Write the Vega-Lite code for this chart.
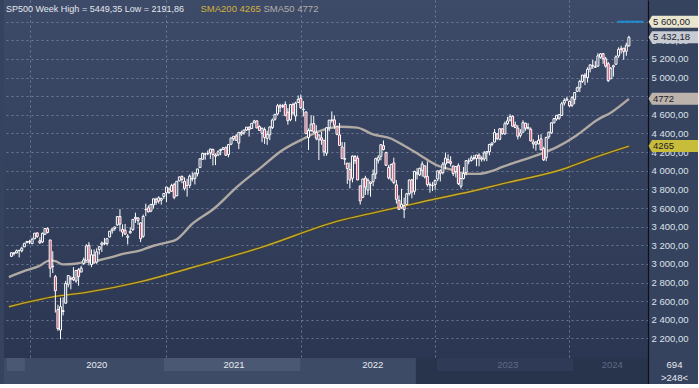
{
"$schema": "https://vega.github.io/schema/vega-lite/v6.json",
"padding": {"left": 3, "top": 0, "right": 0, "bottom": 0},
"background": "#36435f",
"spacing": -1,
"config": {
  "font": "Liberation Sans",
  "view": {"stroke": null},
  "axis": {"labelOverlap": false},
  "locale": {"number": {"decimal": ",", "thousands": " ", "grouping": [3], "currency": ["", ""]}}
},
"datasets": {
"candles": [
{"d":"2019-11-11","o":3081,"h":3123,"l":3078,"c":3120},
{"d":"2019-11-18","o":3118,"h":3127,"l":3091,"c":3110},
{"d":"2019-11-25","o":3117,"h":3154,"l":3115,"c":3141},
{"d":"2019-12-02","o":3144,"h":3150,"l":3070,"c":3146},
{"d":"2019-12-09","o":3141,"h":3183,"l":3124,"c":3169},
{"d":"2019-12-16","o":3183,"h":3226,"l":3180,"c":3221},
{"d":"2019-12-23","o":3227,"h":3248,"l":3227,"c":3240},
{"d":"2019-12-30","o":3240,"h":3259,"l":3212,"c":3235},
{"d":"2020-01-06","o":3217,"h":3282,"l":3214,"c":3265},
{"d":"2020-01-13","o":3271,"h":3330,"l":3264,"c":3330},
{"d":"2020-01-20","o":3333,"h":3338,"l":3280,"c":3295},
{"d":"2020-01-27","o":3248,"h":3285,"l":3214,"c":3226},
{"d":"2020-02-03","o":3235,"h":3337,"l":3223,"c":3328},
{"d":"2020-02-10","o":3318,"h":3385,"l":3315,"c":3380},
{"d":"2020-02-17","o":3379,"h":3393,"l":3328,"c":3338},
{"d":"2020-02-24","o":3257,"h":3259,"l":2855,"c":2954},
{"d":"2020-03-02","o":2975,"h":3137,"l":2901,"c":2972},
{"d":"2020-03-09","o":2863,"h":2882,"l":2478,"c":2711},
{"d":"2020-03-16","o":2509,"h":2562,"l":2281,"c":2305},
{"d":"2020-03-23","o":2290,"h":2637,"l":2192,"c":2541},
{"d":"2020-03-30","o":2498,"h":2641,"l":2447,"c":2489},
{"d":"2020-04-06","o":2578,"h":2818,"l":2575,"c":2790},
{"d":"2020-04-13","o":2782,"h":2880,"l":2749,"c":2875},
{"d":"2020-04-20","o":2845,"h":2868,"l":2727,"c":2837},
{"d":"2020-04-27","o":2854,"h":2965,"l":2815,"c":2831},
{"d":"2020-05-04","o":2816,"h":2933,"l":2798,"c":2930},
{"d":"2020-05-11","o":2937,"h":2955,"l":2766,"c":2864},
{"d":"2020-05-18","o":2913,"h":2980,"l":2910,"c":2955},
{"d":"2020-05-25","o":3005,"h":3068,"l":2988,"c":3044},
{"d":"2020-06-01","o":3038,"h":3211,"l":3032,"c":3194},
{"d":"2020-06-08","o":3199,"h":3234,"l":2984,"c":3041},
{"d":"2020-06-15","o":2994,"h":3155,"l":2965,"c":3098},
{"d":"2020-06-22","o":3094,"h":3155,"l":3004,"c":3009},
{"d":"2020-06-29","o":3019,"h":3166,"l":3001,"c":3130},
{"d":"2020-07-06","o":3155,"h":3185,"l":3101,"c":3185},
{"d":"2020-07-13","o":3205,"h":3240,"l":3128,"c":3225},
{"d":"2020-07-20","o":3224,"h":3279,"l":3201,"c":3216},
{"d":"2020-07-27","o":3219,"h":3277,"l":3200,"c":3271},
{"d":"2020-08-03","o":3289,"h":3352,"l":3284,"c":3351},
{"d":"2020-08-10","o":3356,"h":3387,"l":3324,"c":3373},
{"d":"2020-08-17","o":3380,"h":3399,"l":3355,"c":3397},
{"d":"2020-08-24","o":3418,"h":3509,"l":3408,"c":3508},
{"d":"2020-08-31","o":3509,"h":3588,"l":3349,"c":3427},
{"d":"2020-09-07","o":3370,"h":3425,"l":3293,"c":3341},
{"d":"2020-09-14","o":3363,"h":3429,"l":3313,"c":3319},
{"d":"2020-09-21","o":3285,"h":3320,"l":3209,"c":3298},
{"d":"2020-09-28","o":3334,"h":3393,"l":3324,"c":3348},
{"d":"2020-10-05","o":3368,"h":3482,"l":3354,"c":3477},
{"d":"2020-10-12","o":3500,"h":3550,"l":3441,"c":3484},
{"d":"2020-10-19","o":3493,"h":3502,"l":3419,"c":3465},
{"d":"2020-10-26","o":3441,"h":3443,"l":3234,"c":3270},
{"d":"2020-11-02","o":3296,"h":3530,"l":3280,"c":3509},
{"d":"2020-11-09","o":3583,"h":3646,"l":3512,"c":3585},
{"d":"2020-11-16","o":3601,"h":3628,"l":3553,"c":3558},
{"d":"2020-11-23","o":3567,"h":3644,"l":3556,"c":3638},
{"d":"2020-11-30","o":3634,"h":3700,"l":3594,"c":3699},
{"d":"2020-12-07","o":3694,"h":3712,"l":3634,"c":3663},
{"d":"2020-12-14","o":3675,"h":3726,"l":3648,"c":3709},
{"d":"2020-12-21","o":3684,"h":3711,"l":3636,"c":3703},
{"d":"2020-12-28","o":3723,"h":3760,"l":3697,"c":3756},
{"d":"2021-01-04","o":3764,"h":3827,"l":3663,"c":3825},
{"d":"2021-01-11","o":3803,"h":3823,"l":3750,"c":3768},
{"d":"2021-01-18","o":3781,"h":3860,"l":3774,"c":3841},
{"d":"2021-01-25","o":3851,"h":3870,"l":3694,"c":3714},
{"d":"2021-02-01","o":3732,"h":3887,"l":3726,"c":3887},
{"d":"2021-02-08","o":3892,"h":3937,"l":3885,"c":3934},
{"d":"2021-02-15","o":3939,"h":3950,"l":3866,"c":3907},
{"d":"2021-02-22","o":3886,"h":3928,"l":3788,"c":3811},
{"d":"2021-03-01","o":3842,"h":3914,"l":3723,"c":3842},
{"d":"2021-03-08","o":3844,"h":3960,"l":3814,"c":3943},
{"d":"2021-03-15","o":3914,"h":3983,"l":3885,"c":3913},
{"d":"2021-03-22","o":3916,"h":3979,"l":3853,"c":3975},
{"d":"2021-03-29","o":3969,"h":4020,"l":3939,"c":4020},
{"d":"2021-04-05","o":4034,"h":4130,"l":4034,"c":4129},
{"d":"2021-04-12","o":4124,"h":4192,"l":4116,"c":4185},
{"d":"2021-04-19","o":4179,"h":4194,"l":4118,"c":4180},
{"d":"2021-04-26","o":4185,"h":4218,"l":4167,"c":4181},
{"d":"2021-05-03","o":4192,"h":4238,"l":4128,"c":4233},
{"d":"2021-05-10","o":4228,"h":4238,"l":4057,"c":4174},
{"d":"2021-05-17","o":4169,"h":4187,"l":4061,"c":4156},
{"d":"2021-05-24","o":4170,"h":4220,"l":4157,"c":4204},
{"d":"2021-05-31","o":4216,"h":4234,"l":4167,"c":4230},
{"d":"2021-06-07","o":4229,"h":4255,"l":4222,"c":4247},
{"d":"2021-06-14","o":4248,"h":4262,"l":4164,"c":4166},
{"d":"2021-06-21","o":4174,"h":4287,"l":4144,"c":4281},
{"d":"2021-06-28","o":4285,"h":4356,"l":4275,"c":4352},
{"d":"2021-07-05","o":4344,"h":4372,"l":4321,"c":4370},
{"d":"2021-07-12","o":4373,"h":4394,"l":4326,"c":4327},
{"d":"2021-07-19","o":4297,"h":4415,"l":4233,"c":4412},
{"d":"2021-07-26","o":4409,"h":4430,"l":4374,"c":4395},
{"d":"2021-08-02","o":4406,"h":4441,"l":4387,"c":4437},
{"d":"2021-08-09","o":4437,"h":4470,"l":4426,"c":4468},
{"d":"2021-08-16","o":4462,"h":4480,"l":4367,"c":4442},
{"d":"2021-08-23","o":4454,"h":4510,"l":4451,"c":4509},
{"d":"2021-08-30","o":4514,"h":4546,"l":4513,"c":4535},
{"d":"2021-09-06","o":4535,"h":4542,"l":4458,"c":4459},
{"d":"2021-09-13","o":4474,"h":4487,"l":4428,"c":4433},
{"d":"2021-09-20","o":4402,"h":4465,"l":4306,"c":4455},
{"d":"2021-09-27","o":4442,"h":4466,"l":4288,"c":4357},
{"d":"2021-10-04","o":4348,"h":4429,"l":4278,"c":4391},
{"d":"2021-10-11","o":4386,"h":4475,"l":4329,"c":4471},
{"d":"2021-10-18","o":4464,"h":4560,"l":4448,"c":4545},
{"d":"2021-10-25","o":4553,"h":4608,"l":4538,"c":4605},
{"d":"2021-11-01","o":4610,"h":4718,"l":4595,"c":4697},
{"d":"2021-11-08","o":4701,"h":4718,"l":4630,"c":4682},
{"d":"2021-11-15","o":4689,"h":4718,"l":4672,"c":4698},
{"d":"2021-11-22","o":4712,"h":4744,"l":4585,"c":4595},
{"d":"2021-11-29","o":4628,"h":4672,"l":4495,"c":4538},
{"d":"2021-12-06","o":4548,"h":4713,"l":4532,"c":4712},
{"d":"2021-12-13","o":4710,"h":4732,"l":4600,"c":4620},
{"d":"2021-12-20","o":4587,"h":4741,"l":4531,"c":4726},
{"d":"2021-12-27","o":4733,"h":4808,"l":4733,"c":4766},
{"d":"2022-01-03","o":4779,"h":4819,"l":4663,"c":4677},
{"d":"2022-01-10","o":4655,"h":4749,"l":4582,"c":4662},
{"d":"2022-01-17","o":4632,"h":4632,"l":4396,"c":4398},
{"d":"2022-01-24","o":4357,"h":4454,"l":4223,"c":4432},
{"d":"2022-01-31","o":4432,"h":4596,"l":4417,"c":4500},
{"d":"2022-02-07","o":4507,"h":4590,"l":4401,"c":4418},
{"d":"2022-02-14","o":4412,"h":4489,"l":4327,"c":4349},
{"d":"2022-02-21","o":4332,"h":4386,"l":4115,"c":4385},
{"d":"2022-02-28","o":4354,"h":4417,"l":4279,"c":4329},
{"d":"2022-03-07","o":4327,"h":4327,"l":4157,"c":4204},
{"d":"2022-03-14","o":4189,"h":4465,"l":4161,"c":4463},
{"d":"2022-03-21","o":4462,"h":4546,"l":4424,"c":4543},
{"d":"2022-03-28","o":4541,"h":4637,"l":4517,"c":4546},
{"d":"2022-04-04","o":4547,"h":4593,"l":4450,"c":4488},
{"d":"2022-04-11","o":4474,"h":4475,"l":4381,"c":4392},
{"d":"2022-04-18","o":4385,"h":4513,"l":4268,"c":4272},
{"d":"2022-04-25","o":4256,"h":4308,"l":4124,"c":4132},
{"d":"2022-05-02","o":4131,"h":4307,"l":4063,"c":4123},
{"d":"2022-05-09","o":4082,"h":4082,"l":3859,"c":4024},
{"d":"2022-05-16","o":4013,"h":4090,"l":3811,"c":3901},
{"d":"2022-05-23","o":3920,"h":4165,"l":3875,"c":4158},
{"d":"2022-05-30","o":4153,"h":4168,"l":4074,"c":4109},
{"d":"2022-06-06","o":4134,"h":4164,"l":3900,"c":3901},
{"d":"2022-06-13","o":3838,"h":3838,"l":3637,"c":3675},
{"d":"2022-06-20","o":3715,"h":3913,"l":3705,"c":3912},
{"d":"2022-06-27","o":3921,"h":3946,"l":3741,"c":3825},
{"d":"2022-07-04","o":3792,"h":3918,"l":3742,"c":3899},
{"d":"2022-07-11","o":3880,"h":3880,"l":3722,"c":3863},
{"d":"2022-07-18","o":3883,"h":4013,"l":3834,"c":3962},
{"d":"2022-07-25","o":3966,"h":4140,"l":3911,"c":4130},
{"d":"2022-08-01","o":4113,"h":4167,"l":4079,"c":4145},
{"d":"2022-08-08","o":4155,"h":4281,"l":4112,"c":4280},
{"d":"2022-08-15","o":4269,"h":4325,"l":4218,"c":4228},
{"d":"2022-08-22","o":4195,"h":4204,"l":4057,"c":4058},
{"d":"2022-08-29","o":4035,"h":4062,"l":3907,"c":3924},
{"d":"2022-09-05","o":3910,"h":4077,"l":3886,"c":4067},
{"d":"2022-09-12","o":4084,"h":4140,"l":3856,"c":3873},
{"d":"2022-09-19","o":3849,"h":3900,"l":3647,"c":3693},
{"d":"2022-09-26","o":3682,"h":3736,"l":3584,"c":3586},
{"d":"2022-10-03","o":3609,"h":3807,"l":3591,"c":3640},
{"d":"2022-10-10","o":3626,"h":3712,"l":3491,"c":3583},
{"d":"2022-10-17","o":3638,"h":3762,"l":3647,"c":3753},
{"d":"2022-10-24","o":3754,"h":3906,"l":3734,"c":3901},
{"d":"2022-10-31","o":3902,"h":3912,"l":3704,"c":3771},
{"d":"2022-11-07","o":3780,"h":4000,"l":3744,"c":3993},
{"d":"2022-11-14","o":3978,"h":4029,"l":3906,"c":3965},
{"d":"2022-11-21","o":3956,"h":4034,"l":3943,"c":4026},
{"d":"2022-11-28","o":4005,"h":4101,"l":3937,"c":4072},
{"d":"2022-12-05","o":4053,"h":4053,"l":3918,"c":3934},
{"d":"2022-12-12","o":3940,"h":4101,"l":3828,"c":3852},
{"d":"2022-12-19","o":3853,"h":3876,"l":3765,"c":3845},
{"d":"2022-12-26","o":3843,"h":3878,"l":3783,"c":3840},
{"d":"2023-01-02","o":3853,"h":3906,"l":3795,"c":3895},
{"d":"2023-01-09","o":3911,"h":4003,"l":3887,"c":3999},
{"d":"2023-01-16","o":3999,"h":4015,"l":3885,"c":3973},
{"d":"2023-01-23","o":3979,"h":4094,"l":3961,"c":4071},
{"d":"2023-01-30","o":4071,"h":4195,"l":4015,"c":4136},
{"d":"2023-02-06","o":4120,"h":4176,"l":4079,"c":4090},
{"d":"2023-02-13","o":4097,"h":4156,"l":4048,"c":4079},
{"d":"2023-02-20","o":4052,"h":4052,"l":3944,"c":3970},
{"d":"2023-02-27","o":3992,"h":4049,"l":3928,"c":4046},
{"d":"2023-03-06","o":4055,"h":4079,"l":3847,"c":3862},
{"d":"2023-03-13","o":3835,"h":3964,"l":3809,"c":3917},
{"d":"2023-03-20","o":3917,"h":4040,"l":3906,"c":3971},
{"d":"2023-03-27","o":3982,"h":4110,"l":3951,"c":4109},
{"d":"2023-04-03","o":4102,"h":4133,"l":4069,"c":4105},
{"d":"2023-04-10","o":4110,"h":4164,"l":4098,"c":4138},
{"d":"2023-04-17","o":4139,"h":4170,"l":4113,"c":4133},
{"d":"2023-04-24","o":4132,"h":4170,"l":4049,"c":4169},
{"d":"2023-05-01","o":4167,"h":4187,"l":4048,"c":4136},
{"d":"2023-05-08","o":4136,"h":4154,"l":4098,"c":4124},
{"d":"2023-05-15","o":4126,"h":4212,"l":4103,"c":4192},
{"d":"2023-05-22","o":4190,"h":4212,"l":4103,"c":4205},
{"d":"2023-05-29","o":4205,"h":4290,"l":4166,"c":4282},
{"d":"2023-06-05","o":4282,"h":4299,"l":4261,"c":4299},
{"d":"2023-06-12","o":4308,"h":4448,"l":4305,"c":4410},
{"d":"2023-06-19","o":4396,"h":4400,"l":4328,"c":4348},
{"d":"2023-06-26","o":4338,"h":4458,"l":4328,"c":4450},
{"d":"2023-07-03","o":4450,"h":4456,"l":4385,"c":4399},
{"d":"2023-07-10","o":4395,"h":4528,"l":4389,"c":4505},
{"d":"2023-07-17","o":4506,"h":4578,"l":4493,"c":4536},
{"d":"2023-07-24","o":4544,"h":4607,"l":4528,"c":4582},
{"d":"2023-07-31","o":4585,"h":4594,"l":4474,"c":4478},
{"d":"2023-08-07","o":4492,"h":4527,"l":4457,"c":4464},
{"d":"2023-08-14","o":4458,"h":4490,"l":4336,"c":4370},
{"d":"2023-08-21","o":4380,"h":4447,"l":4355,"c":4406},
{"d":"2023-08-28","o":4414,"h":4542,"l":4414,"c":4516},
{"d":"2023-09-04","o":4511,"h":4515,"l":4430,"c":4457},
{"d":"2023-09-11","o":4464,"h":4511,"l":4448,"c":4450},
{"d":"2023-09-18","o":4445,"h":4465,"l":4316,"c":4320},
{"d":"2023-09-25","o":4310,"h":4338,"l":4238,"c":4288},
{"d":"2023-10-02","o":4284,"h":4320,"l":4216,"c":4308},
{"d":"2023-10-09","o":4289,"h":4385,"l":4283,"c":4327},
{"d":"2023-10-16","o":4343,"h":4393,"l":4223,"c":4224},
{"d":"2023-10-23","o":4239,"h":4259,"l":4104,"c":4117},
{"d":"2023-10-30","o":4140,"h":4365,"l":4103,"c":4358},
{"d":"2023-11-06","o":4365,"h":4415,"l":4342,"c":4415},
{"d":"2023-11-13","o":4407,"h":4521,"l":4396,"c":4514},
{"d":"2023-11-20","o":4514,"h":4567,"l":4511,"c":4559},
{"d":"2023-11-27","o":4555,"h":4597,"l":4537,"c":4595},
{"d":"2023-12-04","o":4564,"h":4609,"l":4547,"c":4604},
{"d":"2023-12-11","o":4593,"h":4739,"l":4591,"c":4719},
{"d":"2023-12-18","o":4726,"h":4779,"l":4700,"c":4755},
{"d":"2023-12-25","o":4758,"h":4793,"l":4751,"c":4770},
{"d":"2024-01-01","o":4745,"h":4754,"l":4682,"c":4697},
{"d":"2024-01-08","o":4703,"h":4802,"l":4683,"c":4784},
{"d":"2024-01-15","o":4766,"h":4842,"l":4714,"c":4840},
{"d":"2024-01-22","o":4853,"h":4903,"l":4845,"c":4891},
{"d":"2024-01-29","o":4890,"h":4976,"l":4845,"c":4959},
{"d":"2024-02-05","o":4957,"h":5030,"l":4943,"c":5027},
{"d":"2024-02-12","o":5026,"h":5048,"l":4920,"c":5006},
{"d":"2024-02-19","o":5001,"h":5111,"l":4946,"c":5089},
{"d":"2024-02-26","o":5093,"h":5140,"l":5056,"c":5137},
{"d":"2024-03-04","o":5131,"h":5189,"l":5094,"c":5124},
{"d":"2024-03-11","o":5111,"h":5179,"l":5105,"c":5117},
{"d":"2024-03-18","o":5123,"h":5262,"l":5118,"c":5234},
{"d":"2024-03-25","o":5219,"h":5264,"l":5203,"c":5254},
{"d":"2024-04-01","o":5258,"h":5264,"l":5147,"c":5204},
{"d":"2024-04-08","o":5202,"h":5222,"l":5107,"c":5123},
{"d":"2024-04-15","o":5149,"h":5168,"l":4953,"c":4967},
{"d":"2024-04-22","o":4987,"h":5114,"l":4987,"c":5100},
{"d":"2024-04-29","o":5114,"h":5139,"l":5011,"c":5128},
{"d":"2024-05-06","o":5143,"h":5239,"l":5142,"c":5223},
{"d":"2024-05-13","o":5233,"h":5325,"l":5212,"c":5303},
{"d":"2024-05-20","o":5309,"h":5342,"l":5257,"c":5305},
{"d":"2024-05-27","o":5316,"h":5316,"l":5191,"c":5278},
{"d":"2024-06-03","o":5283,"h":5375,"l":5234,"c":5347},
{"d":"2024-06-10","o":5341,"h":5449,"l":5331,"c":5432}
],
"sma": [
{"d":"2019-11-04","v":2858,"s":"SMA50 4772"},
{"d":"2019-12-20","v":2930,"s":"SMA50 4772"},
{"d":"2020-01-23","v":2973,"s":"SMA50 4772"},
{"d":"2020-02-24","v":3038,"s":"SMA50 4772"},
{"d":"2020-03-09","v":3030,"s":"SMA50 4772"},
{"d":"2020-03-30","v":2995,"s":"SMA50 4772"},
{"d":"2020-05-01","v":3002,"s":"SMA50 4772"},
{"d":"2020-05-28","v":3020,"s":"SMA50 4772"},
{"d":"2020-06-24","v":3030,"s":"SMA50 4772"},
{"d":"2020-08-08","v":3073,"s":"SMA50 4772"},
{"d":"2020-09-11","v":3110,"s":"SMA50 4772"},
{"d":"2020-10-21","v":3140,"s":"SMA50 4772"},
{"d":"2020-11-30","v":3195,"s":"SMA50 4772"},
{"d":"2021-01-09","v":3234,"s":"SMA50 4772"},
{"d":"2021-01-28","v":3255,"s":"SMA50 4772"},
{"d":"2021-03-17","v":3437,"s":"SMA50 4772"},
{"d":"2021-05-14","v":3598,"s":"SMA50 4772"},
{"d":"2021-07-15","v":3830,"s":"SMA50 4772"},
{"d":"2021-09-20","v":4045,"s":"SMA50 4772"},
{"d":"2021-11-12","v":4215,"s":"SMA50 4772"},
{"d":"2022-01-13","v":4349,"s":"SMA50 4772"},
{"d":"2022-02-19","v":4420,"s":"SMA50 4772"},
{"d":"2022-04-21","v":4473,"s":"SMA50 4772"},
{"d":"2022-06-05","v":4463,"s":"SMA50 4772"},
{"d":"2022-07-18","v":4390,"s":"SMA50 4772"},
{"d":"2022-09-02","v":4349,"s":"SMA50 4772"},
{"d":"2022-10-07","v":4277,"s":"SMA50 4772"},
{"d":"2022-11-21","v":4170,"s":"SMA50 4772"},
{"d":"2023-01-05","v":4062,"s":"SMA50 4772"},
{"d":"2023-02-17","v":4009,"s":"SMA50 4772"},
{"d":"2023-03-26","v":3968,"s":"SMA50 4772"},
{"d":"2023-04-29","v":3966,"s":"SMA50 4772"},
{"d":"2023-06-03","v":3995,"s":"SMA50 4772"},
{"d":"2023-07-05","v":4045,"s":"SMA50 4772"},
{"d":"2023-08-14","v":4098,"s":"SMA50 4772"},
{"d":"2023-10-06","v":4167,"s":"SMA50 4772"},
{"d":"2023-11-29","v":4256,"s":"SMA50 4772"},
{"d":"2024-01-21","v":4382,"s":"SMA50 4772"},
{"d":"2024-03-15","v":4543,"s":"SMA50 4772"},
{"d":"2024-04-25","v":4632,"s":"SMA50 4772"},
{"d":"2024-06-10","v":4772,"s":"SMA50 4772"},
{"d":"2019-11-04","v":2540,"s":"SMA200 4265"},
{"d":"2020-03-09","v":2651,"s":"SMA200 4265"},
{"d":"2020-06-05","v":2697,"s":"SMA200 4265"},
{"d":"2020-10-21","v":2804,"s":"SMA200 4265"},
{"d":"2021-03-03","v":2948,"s":"SMA200 4265"},
{"d":"2021-09-20","v":3181,"s":"SMA200 4265"},
{"d":"2022-04-21","v":3468,"s":"SMA200 4265"},
{"d":"2022-07-10","v":3540,"s":"SMA200 4265"},
{"d":"2022-09-28","v":3611,"s":"SMA200 4265"},
{"d":"2023-01-05","v":3700,"s":"SMA200 4265"},
{"d":"2023-04-03","v":3772,"s":"SMA200 4265"},
{"d":"2023-07-05","v":3862,"s":"SMA200 4265"},
{"d":"2023-12-20","v":4024,"s":"SMA200 4265"},
{"d":"2024-03-01","v":4131,"s":"SMA200 4265"},
{"d":"2024-06-10","v":4265,"s":"SMA200 4265"}
],
"tags": [
{"v":5600,"t":"5 600,00","k":"alert"},
{"v":5432.18,"t":"5 432,18","k":"last"},
{"v":4772,"t":"4772","k":"sma50"},
{"v":4265,"t":"4265","k":"sma200"}
]
},
"vconcat": [
{
 "width": 644,
 "height": 358,
 "view": {"fill": {"gradient": "linear", "x1": 0, "y1": 0, "x2": 0, "y2": 1, "stops": [{"offset": 0, "color": "#3d4a68"}, {"offset": 1, "color": "#2b3752"}]}, "stroke": null},
 "layer": [
  {
   "data": {"name": "sma"},
   "transform": [{"filter": "datum.s === 'SMA200 4265'"}],
   "mark": {"type": "line", "stroke": "#4a441f", "strokeWidth": 2.8, "interpolate": "monotone"},
   "encoding": {
    "x": {"field": "d", "type": "temporal"},
    "y": {"field": "v", "type": "quantitative"}
   }
  },
  {
   "data": {"name": "sma"},
   "mark": {"type": "line", "interpolate": "monotone"},
   "encoding": {
    "x": {"field": "d", "type": "temporal"},
    "y": {"field": "v", "type": "quantitative"},
    "color": {"field": "s", "type": "nominal",
      "scale": {"domain": ["SMA200 4265", "SMA50 4772"], "range": ["#c6aa30", "#b1aaa4"]},
      "legend": {"orient": "none", "legendX": 2, "legendY": 3.5, "direction": "horizontal",
        "title": "SP500 Week High = 5449,35 Low = 2191,86", "titleOrient": "left", "titleLimit": 400, "titlePadding": 18,
        "titleFont": "Liberation Sans", "titleFontSize": 9, "titleFontWeight": "normal", "titleColor": "#e3e7ee",
        "padding": 0,
        "symbolType": "circle", "symbolSize": 1, "symbolOpacity": 0, "symbolStrokeWidth": 0, "symbolOffset": 0, "labelOffset": -11, "columnPadding": 2,
        "labelFont": "Liberation Sans", "labelFontSize": 9.5,
        "labelColor": {"expr": "datum.label === 'SMA200 4265' ? '#d2b23c' : '#b3aea9'"}}},
    "strokeWidth": {"condition": {"test": "datum.s === 'SMA50 4772'", "value": 2.4}, "value": 1.4}
   }
  },
  {
   "data": {"name": "candles"},
   "mark": {"type": "rule", "color": "#ffffff", "strokeWidth": 1},
   "encoding": {
    "x": {"field": "d", "type": "temporal",
      "scale": {"type": "utc", "domain": [{"year": 2019, "month": 11, "date": 4, "hours": 10, "utc": true}, {"year": 2024, "month": 7, "date": 18, "hours": 5, "utc": true}]},
      "axis": {"orient": "bottom", "title": null, "labels": false, "ticks": false, "domain": true, "domainColor": "#0d1117", "domainWidth": 1.2,
        "grid": true, "gridDash": [2, 3], "gridColor": "#8593ad", "gridOpacity": 0.7, "minExtent": 0, "maxExtent": 0, "labelPadding": 0, "tickCount": 40,
        "values": [{"year": 2019, "month": 12, "date": 30, "utc": true}, {"year": 2021, "month": 1, "date": 4, "utc": true}, {"year": 2022, "month": 1, "date": 3, "utc": true}, {"year": 2023, "month": 1, "date": 2, "utc": true}, {"year": 2024, "month": 1, "date": 1, "utc": true}]}},
    "y": {"field": "l", "type": "quantitative",
      "scale": {"domain": [1990, 5833], "nice": false, "zero": false},
      "axis": {"orient": "right", "title": null, "values": [2200, 2400, 2600, 2800, 3000, 3200, 3400, 3600, 3800, 4000, 4200, 4400, 4600, 4800, 5000, 5200, 5400, 5600],
        "tickCount": 40,
        "format": ",.2f", "labelFont": "Liberation Sans", "labelFontSize": 9.5, "labelColor": "#dde2ea", "ticks": false, "labelPadding": 3,
        "labelOverlap": false, "labelBound": false, "labelFlush": false,
        "domain": true, "domainColor": "#0d1117", "domainWidth": 1.2,
        "grid": true, "gridDash": [2, 3], "gridColor": "#8593ad", "gridOpacity": 0.7}},
    "y2": {"field": "h"}
   }
  },
  {
   "data": {"name": "candles"},
   "mark": {"type": "bar", "width": 2, "stroke": "#ffffff", "strokeWidth": 1},
   "encoding": {
    "x": {"field": "d", "type": "temporal"},
    "y": {"field": "o", "type": "quantitative"},
    "y2": {"field": "c"},
    "fill": {"condition": {"test": "datum.c >= datum.o", "value": "#36435f"}, "value": "#c43a5c"}
   }
  },
  {
   "data": {"values": [{"d": "2024-05-10", "d2": "2024-07-19", "v": 5600}]},
   "mark": {"type": "rule", "color": "#1e8fd6", "strokeWidth": 2},
   "encoding": {
    "x": {"field": "d", "type": "temporal"},
    "x2": {"field": "d2"},
    "y": {"field": "v", "type": "quantitative"}
   }
  },
  {
   "data": {"name": "tags"},
   "mark": {"type": "point", "shape": "M-24.5,0L-21,-6L25,-6L25,6L-21,6Z", "size": 4, "filled": true, "opacity": 1, "strokeWidth": 0, "x": {"expr": "width + 25"}},
   "encoding": {
    "y": {"field": "v", "type": "quantitative"},
    "fill": {"field": "k", "type": "nominal",
      "scale": {"domain": ["alert", "last", "sma50", "sma200"], "range": ["#e8e6cf", "#c6cbd4", "#bcb4ac", "#c8bd3a"]},
      "legend": null}
   }
  },
  {
   "data": {"name": "tags"},
   "mark": {"type": "text", "x": {"expr": "width + 5"}, "align": "left", "baseline": "middle", "font": "Liberation Sans", "fontSize": 9.5, "color": "#1d2028"},
   "encoding": {
    "y": {"field": "v", "type": "quantitative"},
    "text": {"field": "t"}
   }
  }
 ]
},
{
 "width": 644,
 "height": 26,
 "view": {"fill": "#3e4b67", "stroke": null},
 "resolve": {"scale": {"color": "independent"}},
 "layer": [
  {
   "data": {"values": [{"s": "2022-11-07", "e": "2024-07-19", "shade": "dark"}]},
   "mark": {"type": "rect"},
   "encoding": {
    "x": {"field": "s", "type": "temporal",
      "scale": {"type": "utc", "domain": [{"year": 2019, "month": 11, "date": 4, "hours": 10, "utc": true}, {"year": 2024, "month": 7, "date": 18, "hours": 5, "utc": true}]},
      "axis": null},
    "x2": {"field": "e"},
    "color": {"field": "shade", "type": "nominal", "scale": {"domain": ["dark"], "range": ["#28334c"]}, "legend": null}
   }
  },
  {
   "data": {"values": [
     {"s": "2019-11-12", "e": "2019-12-30", "shade": "light"},
     {"s": "2021-01-04", "e": "2022-01-03", "shade": "light"},
     {"s": "2023-01-02", "e": "2024-01-01", "shade": "dim"}
   ]},
   "mark": {"type": "rect"},
   "encoding": {
    "x": {"field": "s", "type": "temporal", "axis": null},
    "x2": {"field": "e"},
    "y": {"datum": "694", "type": "nominal",
      "scale": {"domain": ["694", ">248<"], "paddingInner": 0, "paddingOuter": 0},
      "axis": {"orient": "right", "title": null, "ticks": false, "labelAlign": "center", "labelPadding": 26,
        "labelColor": "#e6eaf1", "labelFont": "Liberation Sans", "labelFontSize": 9.5, "domainColor": "#0d1117", "domainWidth": 1.2, "grid": false}},
    "color": {"field": "shade", "type": "nominal", "scale": {"domain": ["light", "dim"], "range": ["#4b5874", "#2f3b56"]}, "legend": null}
   }
  },
  {
   "data": {"values": [
     {"m": "2020-07-09", "lab": "2020", "tone": "on"},
     {"m": "2021-07-10", "lab": "2021", "tone": "on"},
     {"m": "2022-07-15", "lab": "2022", "tone": "on"},
     {"m": "2023-07-10", "lab": "2023", "tone": "off"},
     {"m": "2024-04-14", "lab": "2024", "tone": "off"}
   ]},
   "mark": {"type": "text", "align": "center", "baseline": "middle", "font": "Liberation Sans", "fontSize": 9.5},
   "encoding": {
    "x": {"field": "m", "type": "temporal", "axis": null},
    "y": {"datum": "694", "type": "nominal"},
    "text": {"field": "lab"},
    "color": {"field": "tone", "type": "nominal", "scale": {"domain": ["on", "off"], "range": ["#e6eaf1", "#5d6984"]}, "legend": null}
   }
  }
 ]
}
]
}
